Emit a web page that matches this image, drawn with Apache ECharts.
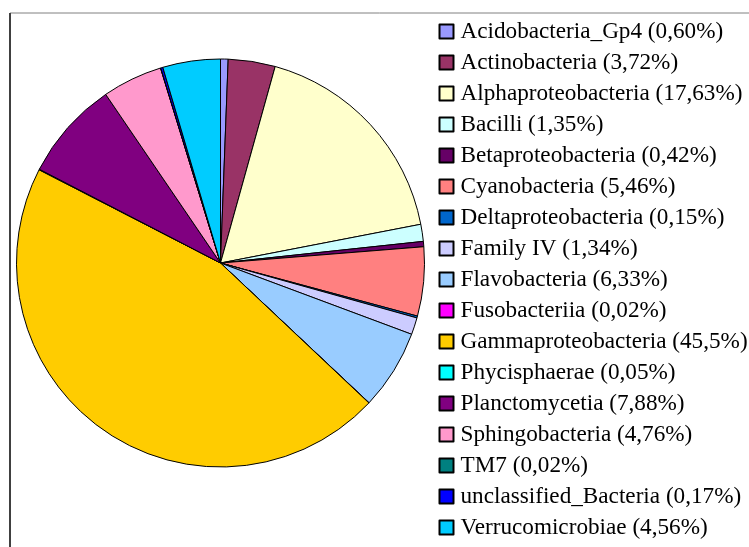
<!DOCTYPE html>
<html>
<head>
<meta charset="utf-8">
<script src="https://cdn.jsdelivr.net/npm/echarts@6/dist/echarts.min.js"></script>
<style>html,body{margin:0;padding:0;background:#fff}#c{width:749px;height:547px}</style>
</head>
<body>
<div id="c"></div>
<script>
const categories = ["Acidobacteria_Gp4","Actinobacteria","Alphaproteobacteria","Bacilli","Betaproteobacteria","Cyanobacteria","Deltaproteobacteria","Family IV","Flavobacteria","Fusobacteriia","Gammaproteobacteria","Phycisphaerae","Planctomycetia","Sphingobacteria","TM7","unclassified_Bacteria","Verrucomicrobiae"];
const values = [0.60,3.72,17.63,1.35,0.42,5.46,0.15,1.34,6.33,0.02,45.5,0.05,7.88,4.76,0.02,0.17,4.56];
const labels = ["0,60%","3,72%","17,63%","1,35%","0,42%","5,46%","0,15%","1,34%","6,33%","0,02%","45,5%","0,05%","7,88%","4,76%","0,02%","0,17%","4,56%"];
const colors = ["#9999FF","#993366","#FFFFCC","#CCFFFF","#660066","#FF8080","#0066CC","#CCCCFF","#99CCFF","#FF00FF","#FFCC00","#00FFFF","#800080","#FF99CC","#008080","#0000FF","#00CCFF"];

const chart = echarts.init(document.getElementById('c'), null, {renderer:'canvas'});
const labelMap = {};
categories.forEach((c,i)=>labelMap[c]=labels[i]);
chart.setOption({
  animation:false,
  backgroundColor:'#fff',
  color: colors,
  graphic:[
    {type:'line', shape:{x1:10,y1:13,x2:749,y2:13}, style:{stroke:'#808080',lineWidth:1}},
    {type:'line', shape:{x1:10,y1:13,x2:10,y2:547}, style:{stroke:'#404040',lineWidth:2}}
  ],
  legend:{
    orient:'vertical', left:438.5, top:19.5, padding:0,
    itemWidth:14, itemHeight:14, itemGap:7,
    icon:'rect',
    data:categories,
    formatter: n => n + ' (' + labelMap[n] + ')',
    textStyle:{fontFamily:'Liberation Serif', fontSize:23.2, lineHeight:24, color:'#000', padding:[0,0,0,2]},
    selectedMode:false
  },
  series:[{
    type:'pie',
    center:[220.5,263], radius:[0,204],
    startAngle:90, clockwise:true,
    label:{show:false}, labelLine:{show:false},
    itemStyle:{borderColor:'#000', borderWidth:1},
    emphasis:{disabled:true},
    data: categories.map((c,i)=>({name:c, value:values[i]}))
  }]
});
</script>
</body>
</html>
